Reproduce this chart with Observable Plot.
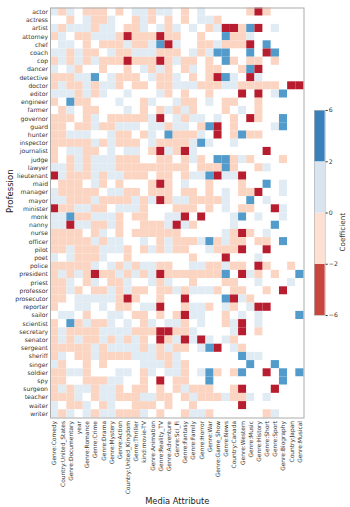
<!DOCTYPE html>
<html><head><meta charset="utf-8">
<script src="https://cdn.jsdelivr.net/npm/d3@7"></script>
<script src="https://cdn.jsdelivr.net/npm/@observablehq/plot@0.6"></script>
<style>html,body{margin:0;padding:0;background:#fff}#w{position:relative;width:350px;height:507px;overflow:hidden}#w svg{position:absolute;left:0;top:0;background:none}</style>
</head><body><div id="w"></div>
<script>
const attributes=["Genre:Comedy","Country:United_States","Genre:Documentary","year","Genre:Romance","Genre:Crime","Genre:Drama","Genre:Mystery","Genre:Action","Country:United_Kingdom","Genre:Thriller","kind:movie-TV","Genre:Animation","Genre:Reality_TV","Genre:Adventure","Genre:Sci_Fi","Genre:Fantasy","Genre:Family","Genre:Horror","Genre:War","Genre:Game_Show","Genre:News","Country:Canada","Genre:Western","Genre:Music","Genre:History","Genre:Short","Genre:Sport","Genre:Biography","Country:Japan","Genre:Musical"];
const professions=["actor","actress","artist","attorney","chef","coach","cop","dancer","detective","doctor","editor","engineer","farmer","governor","guard","hunter","inspector","journalist","judge","lawyer","lieutenant","maid","manager","mayor","minister","monk","nanny","nurse","officer","pilot","poet","police","president","priest","professor","prosecutor","reporter","sailor","scientist","secretary","senator","sergeant","sheriff","singer","soldier","spy","surgeon","teacher","waiter","writer"];
// R strong negative, o weak negative, . near zero, b weak positive, B strong positive
const coefficientBands={"R":-4,"o":-1,".":0,"b":1,"B":3};
const matrix=[
"bob.o oo.o. bbobb .o.b. ....o Ro... .",
"..o.b oob.. obo.o .o.bb o.... ..... .",
"bobbb obb.o ob.bo b.b.o bRRoB R.b.. .",
"ob.oo bbboR oooRo o..o. .Boob ..... .",
".bb.o .ooob oobBR b..oo boooR .B... .",
"bbobo o.boo bbboo o.bob BB..B .RB.. .",
"obobo boooR oooRo boo.o .Bo.o o.o.. .",
"b.bo. .o..o .bobo .ob.o o..oB R.... .",
"ooobb B.boo o.boo b.o.o RBb.R b.... .",
"oboob obbo. oo.oo bbboo obboo ooo.R R",
"bbbob ob..b ...bo .o..o ...R. R.bB. .",
"o.Boo ...b. .ob.. boo.b .oo.. o.... .",
".ob.o o...b .o.ob obo.. .o.b. o.... .",
"ooo.o b.ooo oobR. bobb. b.o.R o..B. .",
"oo.oo boobb b.bbo bb.oB R.o.. ..bB. .",
"oobbb ..boo .ob.B ooob. R.oBo o.... .",
"ooooo boboo o.boo oobBb ..b.. ..... .",
"o.bbo o.b.b b.oRb oRb.. ..... .R... .",
"o.obo bbboo o..oo .obo. BBobo ...o. .",
"bbobo bbboo ooooo oo.oo oBo.. ob... .",
"Rbooo bobbo oo.oo .obbB RbbR. ..... .",
".ooo. bo.o. ..oRo .b..o ...o. .B.b. .",
"boooo o.bbo o.ooo .oo.o .b.oo R..b. .",
"bbooo boooo bobRo bbooo ob..B .b... .",
"Roobb oo.bb bo... ooo.o .b.oo ..Rb. .",
"bbBoo bbbo. oo..b bR.R. ..bB. b..b. .",
"bbRbb oobo. .ooob Rbo.. ..b.. ..B.. .",
"oooo. ob.o. ooooo o.... .boRo .b... .",
"ooooo bobb. .b.ob ooobB oboo. oo.B. .",
"ooboo obbbo .obob oo..b oooR. .R... .",
"b.boo ob..o ..... ..o.. .R... b.... .",
"ooooo b.bob obboo ..bbo oboo. Ro..o .",
"obobo Roobo bobRo ooooo oB.Rb o.o.. B",
"oob.o b.oob ..bob ..o.. .oo.. b...b .",
"oobo. oobob oo.oo bobbb o.oo. .o.R. .",
"oo.bb bbboR o..o. .R... .BRbo ..... .",
"o..bb .b.oo .bbR. .obbo .bo.b RR... .",
".bb.o ..bb. oo.o. oRbb. .o.b. b.... B",
"o.Bob oob.b .ob.b bo.b. .obR. b.... .",
"obooo obbbb oooRR oob.. ..bR. o.... .",
"obobo obobo bo.Ro bRbRb .bo.. ..... .",
"ooooo bobbb bobob oo.bB R.bo. ..... .",
"ob.oo boooo bbboo b.... ...Bb b.... .",
"bo..o .o... .bbbo bo... ....B ..B.. .",
"oobbo ...bb .ob.b bo.bB o.oB. .R.B. B",
"oo..o oobb. .o.R. oo..B ..... ...B. .",
"obobb obbo. oo.o. obooo ..oR. ..R.. .",
"ooob. obboo obboo .oboo oboob .b... .",
"b.oob .ob.. ooo.o ..o.. ...R. ..... .",
"bob.b obboo ob.o. .obbo ..... .ob.. ."
];
const barBreaks=[-6,-2,0,2,6];
const barColors=["#c9463f","#fee0d2","#d8e5f0","#3a80ba"];
const cellValues=[-4,-1,0,1,3];
const cellColors=["#b81d2f","#fbd5c2","#ffffff","#e0ebf3","#529bcb"];

const cells=[];
matrix.forEach((row,r)=>{[...row.replace(/ /g,"")].forEach((c,a)=>{cells.push({profession:professions[r],attribute:attributes[a],value:coefficientBands[c]});});});
const font="'DejaVu Sans'";
const w=document.getElementById("w");
const main=Plot.plot({
  width:350,height:507,marginLeft:50,marginRight:46.5,marginTop:7.5,marginBottom:89.5,
  style:{fontFamily:font,background:"transparent",color:"#333"},
  x:{domain:attributes,padding:0,round:false,axis:null},
  y:{domain:professions,padding:0,round:false,axis:null},
  color:{type:"ordinal",domain:cellValues,range:cellColors},
  marks:[
    Plot.cell(cells,{x:"attribute",y:"profession",fill:"value"}),
    Plot.frame({stroke:"#ababab",strokeWidth:1}),
    Plot.axisX({anchor:"bottom",tickSize:0,tickPadding:3,tickRotate:-90,fontSize:5.9,label:null,fill:"#333"}),
    Plot.axisY({anchor:"left",tickSize:0,tickPadding:2.5,fontSize:6.1,label:null,fill:"#333"}),
    Plot.text(["Media Attribute"],{frameAnchor:"bottom",dy:86,fontSize:8.3,fill:"#222"}),
    Plot.text(["Profession"],{frameAnchor:"left",dx:-40,rotate:-90,fontSize:8.5,fill:"#222"})
  ]
});
w.appendChild(main);
const segments=barColors.map((c,i)=>({lo:i,hi:i+1,c}));
const bar=Plot.plot({
  width:350,height:507,marginLeft:314,marginRight:25.3,marginTop:110,marginBottom:192,
  style:{fontFamily:font,background:"transparent",color:"#333"},
  x:{domain:[0,1],axis:null},
  y:{domain:[0,barColors.length],axis:null},
  marks:[
    Plot.rect(segments,{x1:()=>0,x2:()=>1,y1:"lo",y2:"hi",fill:d=>d.c}),
    Plot.frame({stroke:"#b5b5b5",strokeWidth:0.7}),
    Plot.axisY({anchor:"right",ticks:barBreaks.map((_,i)=>i),tickFormat:i=>String(barBreaks[i]).replace("-","\u2212"),tickSize:2,tickPadding:1.5,fontSize:6.2,label:null,fill:"#333"}),
    Plot.text(["Coefficient"],{frameAnchor:"right",dx:17,rotate:-90,fontSize:7.2,fill:"#333"})
  ]
});
w.appendChild(bar);
</script></body></html>
